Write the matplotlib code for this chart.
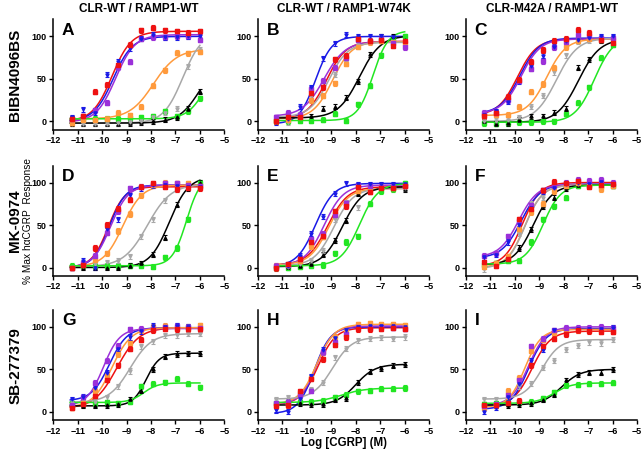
import numpy as np
import matplotlib.pyplot as plt

plt.rcParams['font.family'] = ['Liberation Sans', 'DejaVu Sans']

# log molar CGRP, 3-fold dilutions
log_conc = [-11.25, -10.77, -10.29, -9.82, -9.34, -8.86, -8.39, -7.91, -7.43, -6.95, -6.48, -6.0]

# series order: red, blue, purple, orange, gray, black, green
series_colors = ['#ee1111', '#1a1ae6', '#9b30d9', '#ff9a3c', '#a8a8a8', '#000000', '#22e622']
series_markers = ['s', 'v', 's', 's', 'v', '^', 's']

col_titles = ['CLR-WT / RAMP1-WT', 'CLR-WT / RAMP1-W74K', 'CLR-M42A / RAMP1-WT']
row_labels = ['BIBN4096BS', 'MK-0974', 'SB-277379']
panel_letters = ['A', 'B', 'C', 'D', 'E', 'F', 'G', 'H', 'I']

# fitted curves: (bottom, top, logEC50, hill) per series
fit_A = [(0, 106, -9.6, 1.1), (0, 100, -9.55, 1.1), (-1, 102, -9.45, 1.1), (3, 85, -7.9, 0.9),
         (-2, 105, -6.7, 1.1), (-2, 75, -6.0, 1.0), (3, 70, -5.8, 1.2)]
fit_B = [(3, 94, -9.2, 1.1), (-3, 100, -9.65, 1.3), (6, 94, -9.3, 1.0), (3, 94, -8.95, 1.1),
         (5, 93, -9.1, 1.1), (4, 101, -7.85, 1.0), (1, 107, -7.3, 1.4)]
fit_C = [(7, 97, -9.9, 1.1), (9, 98, -9.8, 1.1), (9, 97, -9.75, 1.1), (7, 97, -8.7, 1.1),
         (0, 98, -8.3, 1.0), (-1, 97, -7.4, 1.0), (-1, 100, -6.75, 1.1)]
fit_D = [(0, 95, -9.75, 1.3), (0, 97, -9.7, 1.3), (0, 97, -9.65, 1.2), (1, 97, -9.15, 1.1),
         (1, 98, -8.15, 0.9), (0, 107, -7.25, 1.1), (2, 108, -6.55, 1.5)]
fit_E = [(3, 95, -9.15, 1.05), (1, 99, -9.65, 1.15), (2, 97, -9.3, 1.1), (3, 93, -9.1, 1.1),
         (2, 93, -8.9, 1.1), (1, 95, -8.55, 1.05), (2, 99, -7.85, 1.15)]
fit_F = [(2, 100, -9.7, 1.2), (11, 98, -9.75, 1.1), (12, 98, -9.85, 1.1), (0, 97, -9.6, 1.2),
         (-1, 97, -9.6, 1.2), (3, 97, -9.25, 1.1), (4, 97, -8.85, 1.2)]
fit_G = [(4, 99, -9.4, 0.95), (13, 99, -9.7, 1.2), (7, 98, -9.95, 1.3), (5, 99, -9.6, 1.1),
         (11, 92, -8.85, 1.0), (7, 69, -8.2, 1.6), (11, 34, -8.3, 1.5)]
fit_H = [(8, 99, -9.55, 1.2), (-2, 100, -9.7, 1.3), (9, 101, -9.6, 1.3), (9, 103, -9.6, 1.2),
         (15, 88, -8.95, 1.1), (8, 56, -8.0, 1.1), (11, 28, -8.6, 0.9)]
fit_I = [(7, 95, -9.3, 1.15), (3, 98, -9.45, 1.2), (7, 100, -9.45, 1.2), (5, 97, -9.6, 1.3),
         (15, 85, -8.9, 1.2), (8, 50, -8.1, 1.1), (10, 34, -8.4, 1.2)]

# measured responses (% max), one list per series
resp_A = [[3, 6, 35, 43, 66, 90, 107, 110, 107, 106, 104, 106],
          [5, 14, 10, 55, 70, 86, 97, 102, 99, 99, 100, 101],
          [3, 6, 13, 22, 64, 70, 97, 99, 99, 100, 100, 96],
          [-2, 2, 2, 3, 10, 7, 17, 42, 60, 81, 80, 82],
          [-3, -3, -3, -3, -2, -1, 0, 5, 10, 15, 65, 84],
          [-3, -3, -3, -3, -3, -2, -1, 0, 2, 5, 15, 35],
          [3, 3, 3, 3, 3, 4, 5, 6, 12, 6, 12, 27]]
resp_B = [[0, 5, 5, 33, 40, 73, 77, 97, 95, 96, 89, 95],
          [-1, 3, 17, 40, 74, 92, 102, 100, 100, 100, 99, 95],
          [5, 10, 8, 38, 48, 63, 75, 96, 94, 97, 92, 87],
          [0, 2, 5, 25, 30, 45, 68, 88, 93, 95, 93, 92],
          [0, -1, 5, 30, 30, 55, 70, 90, 94, 95, 93, 93],
          [0, 3, 5, 6, 15, 17, 28, 47, 79, 100, 100, 96],
          [0, 0, 1, 1, 2, 9, 1, 20, 42, 78, 97, 100]]
resp_C = [[6, 10, 29, 49, 70, 84, 95, 97, 108, 104, 96, 92],
          [8, 12, 23, 47, 65, 77, 88, 95, 96, 98, 100, 100],
          [10, 10, 25, 48, 62, 71, 87, 93, 102, 100, 98, 98],
          [7, 8, 8, 17, 35, 44, 63, 87, 95, 97, 96, 96],
          [0, 1, 2, 5, 17, 30, 58, 78, 94, 95, 96, 97],
          [0, -3, -2, 2, 6, 6, 10, 15, 63, 73, 95, 96],
          [-2, -3, -2, -1, -1, 0, 0, 9, 22, 40, 75, 90]]
resp_D = [[0, 3, 23, 50, 69, 80, 95, 99, 95, 92, 94, 93],
          [0, 8, 0, 45, 57, 85, 93, 97, 97, 96, 95, 95],
          [0, 5, 14, 41, 66, 93, 95, 98, 99, 99, 97, 96],
          [0, 3, 9, 17, 43, 63, 85, 97, 100, 99, 99, 96],
          [0, 2, 4, 6, 8, 13, 37, 57, 79, 92, 97, 96],
          [0, 0, 0, 0, 0, 2, 5, 15, 35, 74, 93, 100],
          [2, 2, 2, 2, 2, 2, 2, 1, 12, 23, 57, 100]]
resp_E = [[-1, 4, 10, 30, 37, 66, 72, 95, 89, 93, 93, 96],
          [0, 2, 14, 40, 60, 87, 99, 98, 98, 98, 98, 98],
          [2, 3, 10, 33, 40, 62, 76, 97, 96, 95, 95, 96],
          [2, 3, 8, 25, 36, 63, 75, 90, 90, 95, 93, 96],
          [0, 1, 4, 8, 20, 57, 77, 71, 90, 93, 93, 93],
          [0, 1, 2, 4, 15, 32, 55, 87, 92, 93, 94, 92],
          [0, 0, 1, 2, 3, 17, 30, 37, 75, 90, 92, 99]]
resp_F = [[6, 2, 10, 57, 69, 91, 101, 99, 102, 95, 97, 98],
          [12, 15, 30, 50, 70, 90, 93, 98, 99, 98, 101, 97],
          [14, 17, 37, 55, 73, 91, 96, 100, 103, 102, 103, 100],
          [1, 5, 13, 45, 65, 75, 90, 96, 99, 96, 92, 96],
          [-2, 3, 11, 40, 75, 82, 93, 97, 98, 98, 95, 96],
          [2, 5, 10, 23, 45, 72, 82, 93, 97, 97, 97, 97],
          [3, 5, 8, 8, 30, 57, 72, 82, 96, 97, 96, 96]]
resp_G = [[5, 9, 19, 38, 55, 74, 85, 96, 98, 97, 97, 97],
          [15, 18, 28, 46, 74, 88, 95, 101, 100, 101, 100, 98],
          [8, 17, 34, 60, 78, 97, 98, 98, 100, 101, 100, 99],
          [5, 10, 25, 42, 68, 81, 96, 100, 101, 99, 100, 102],
          [10, 12, 12, 17, 30, 48, 77, 83, 90, 90, 92, 92],
          [7, 7, 7, 8, 9, 15, 25, 50, 65, 68, 69, 69],
          [10, 10, 10, 11, 10, 12, 30, 33, 35, 39, 33, 29]]
resp_H = [[7, 8, 24, 39, 62, 79, 88, 97, 97, 98, 99, 98],
          [2, 0, 15, 42, 73, 87, 96, 100, 101, 101, 101, 100],
          [10, 12, 20, 25, 70, 82, 91, 100, 99, 100, 99, 98],
          [8, 8, 22, 40, 70, 88, 95, 103, 104, 103, 103, 102],
          [15, 17, 15, 26, 34, 64, 74, 84, 86, 87, 86, 88],
          [8, 10, 10, 9, 9, 14, 16, 35, 47, 51, 54, 56],
          [10, 11, 12, 12, 13, 17, 20, 24, 25, 27, 27, 28]]
resp_I = [[8, 8, 10, 13, 55, 77, 86, 91, 96, 95, 94, 94],
          [0, 5, 17, 33, 60, 73, 96, 92, 98, 98, 98, 99],
          [7, 9, 20, 38, 77, 86, 96, 99, 99, 99, 100, 99],
          [5, 8, 25, 40, 72, 85, 93, 96, 96, 96, 96, 95],
          [15, 15, 24, 30, 33, 52, 60, 73, 78, 82, 81, 85],
          [8, 8, 8, 9, 10, 14, 20, 37, 44, 46, 46, 50],
          [9, 10, 10, 11, 12, 16, 23, 31, 32, 33, 33, 34]]

# rough SEM per series (red..green)
sem = [3, 3, 3, 3, 3, 3, 3]

fits = [fit_A, fit_B, fit_C, fit_D, fit_E, fit_F, fit_G, fit_H, fit_I]
resps = [resp_A, resp_B, resp_C, resp_D, resp_E, resp_F, resp_G, resp_H, resp_I]


def logistic(x, bottom, top, logec50, hill):
    return bottom + (top - bottom) / (1 + 10 ** ((logec50 - x) * hill))


fig = plt.figure(figsize=(6.41, 4.51), dpi=100)

col_left = [0.083, 0.4025, 0.727]
row_bottom = [0.712, 0.388, 0.068]
ax_w, ax_h = 0.267, 0.245

x_fit = np.linspace(log_conc[0] - 0.05, log_conc[-1], 200)

for idx in range(9):
    r, c = divmod(idx, 3)
    ax = fig.add_axes([col_left[c], row_bottom[r], ax_w, ax_h])
    # draw green first, red last so red sits on top
    for s in reversed(range(7)):
        color = series_colors[s]
        ax.plot(x_fit, logistic(x_fit, *fits[idx][s]), color=color, lw=1.1, zorder=2 + s * 0.01)
        ax.errorbar(log_conc, resps[idx][s], yerr=sem[s], fmt=series_markers[s],
                    color=color, ms=2.3, elinewidth=0.8, capsize=1.2, capthick=0.8,
                    zorder=3)
    ax.set_xlim(-12, -5)
    ax.set_ylim(-10, 120)
    ax.set_xticks(range(-12, -4))
    ax.set_yticks([0, 50, 100])
    for side in ['top', 'right']:
        ax.spines[side].set_visible(False)
    for side in ['left', 'bottom']:
        ax.spines[side].set_linewidth(1.1)
    ax.tick_params(direction='out', length=3, width=1.0, labelsize=6.5, pad=1.5)
    for lab in ax.get_xticklabels() + ax.get_yticklabels():
        lab.set_fontweight('bold')
    ax.text(0.05, 0.9, panel_letters[idx], transform=ax.transAxes, fontsize=12.5,
            fontweight='bold', ha='left', va='center')
    if r == 0:
        ax.set_title(col_titles[c], fontsize=8.5, fontweight='bold', pad=5)

for r in range(3):
    yc = row_bottom[r] + ax_h / 2
    fig.text(0.024, yc, row_labels[r], rotation=90, fontsize=11, fontweight='bold',
             ha='center', va='center')

fig.text(0.043, row_bottom[1] + ax_h / 2, '% Max h\u03b1CGRP  Response', rotation=90,
         fontsize=7.3, ha='center', va='center')
fig.text(col_left[1] + ax_w / 2, 0.018, 'Log [CGRP] (M)', fontsize=8.3, fontweight='bold',
         ha='center', va='center')

fig.savefig('out.png', dpi=100)
